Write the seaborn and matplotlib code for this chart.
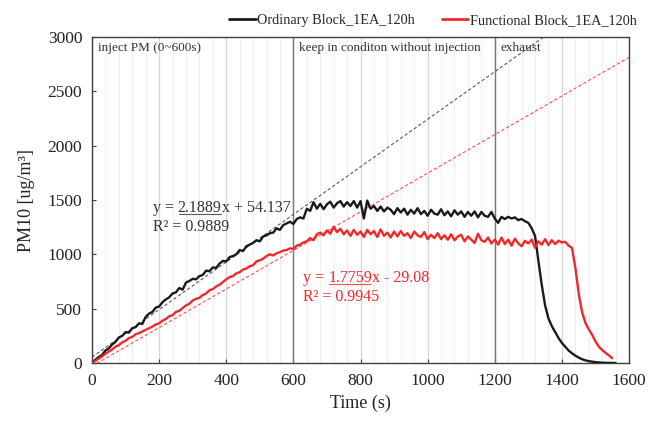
import numpy as np
import pandas as pd
import seaborn as sns
import matplotlib.pyplot as plt
from matplotlib.ticker import MultipleLocator
from matplotlib.lines import Line2D
from matplotlib.transforms import IdentityTransform

# PM10 concentration sampled every 10 s
ordinary_pm10 = [
    0, 30, 55, 75, 115, 135, 170, 195, 235, 250,
    285, 280, 320, 330, 365, 360, 425, 455, 470, 510,
    520, 560, 585, 605, 640, 650, 690, 675, 740, 755,
    775, 770, 800, 810, 850, 845, 880, 875, 915, 940,
    935, 975, 985, 1000, 1040, 1030, 1075, 1090, 1105, 1130,
    1120, 1165, 1175, 1195, 1200, 1240, 1225, 1270, 1285, 1300,
    1280, 1325, 1340, 1330, 1420, 1400, 1480, 1420, 1465, 1415,
    1460, 1485, 1430, 1470, 1490, 1440, 1480, 1445, 1490, 1430,
    1490, 1330, 1495, 1420, 1445, 1400, 1440, 1395, 1430, 1410,
    1370, 1425, 1385, 1420, 1365, 1410, 1375, 1425, 1370, 1400,
    1355, 1410, 1375, 1365, 1415, 1360, 1395, 1350, 1405, 1365,
    1395, 1345, 1390, 1355, 1395, 1340, 1390, 1355, 1345, 1390,
    1330, 1290, 1345, 1325, 1345, 1330, 1340, 1315, 1325, 1305,
    1290, 1240, 1170, 940, 720, 530, 410, 340, 285, 230,
    185, 150, 115, 90, 68, 50, 35, 25, 17, 12,
    8, 5, 3, 2, 1, 0, 0,
]
functional_pm10 = [
    0, 20, 40, 60, 85, 105, 125, 150, 165, 190,
    205, 230, 240, 265, 275, 290, 305, 320, 335, 355,
    365, 390, 405, 430, 440, 470, 480, 505, 530, 545,
    575, 590, 600, 625, 640, 670, 680, 705, 720, 745,
    770, 790, 800, 825, 835, 860, 870, 890, 900, 935,
    945, 960, 985, 1000, 990, 1010, 1020, 1035, 1040, 1055,
    1050, 1080, 1090, 1110, 1120, 1150, 1130, 1185, 1200, 1175,
    1220, 1190, 1255, 1205, 1235, 1185, 1220, 1170, 1225, 1180,
    1210, 1160, 1225, 1185, 1215, 1160, 1230, 1170, 1200, 1155,
    1210, 1165, 1215, 1170, 1195, 1150, 1210, 1175, 1160, 1205,
    1140, 1180, 1150, 1195, 1140, 1175, 1135, 1185, 1130, 1165,
    1180, 1120, 1165, 1135, 1105, 1190, 1130, 1115, 1155, 1100,
    1135, 1090, 1155, 1095, 1135, 1080, 1145, 1100, 1075, 1125,
    1100, 1135, 1060, 1120, 1090, 1140, 1085, 1130, 1095, 1125,
    1110, 1115, 1080, 1060, 880, 640, 470, 370, 310, 260,
    200, 150, 120, 95, 70, 45,
]
ordinary_time = [10 * i for i in range(len(ordinary_pm10))]
functional_time = [10 * i for i in range(len(functional_pm10))]

series_names = ["Ordinary Block_1EA_120h", "Functional Block_1EA_120h"]
series_colors = ["#1a1a1a", "#f0282a"]
trend_colors = ["#595959", "#ff4d4d"]
equation_colors = ["#333333", "#f0282a"]

# linear fits over the injection phase
fit_slopes = [2.1889, 1.7759]
fit_intercepts = [54.137, -29.08]
fit_r2 = [0.9889, 0.9945]

phase_labels = ["inject PM (0~600s)", "keep in conditon without injection", "exhaust"]
phase_starts = [0, 600, 1200]
x_ticks = [0, 200, 400, 600, 800, 1000, 1200, 1400, 1600]
y_ticks = [0, 500, 1000, 1500, 2000, 2500, 3000]

df = pd.concat([
    pd.DataFrame({"Time": ordinary_time, "PM10": ordinary_pm10, "Series": series_names[0]}),
    pd.DataFrame({"Time": functional_time, "PM10": functional_pm10, "Series": series_names[1]}),
])

sns.set_style("ticks")
plt.rcParams["font.family"] = ["Liberation Serif", "DejaVu Serif"]

fig = plt.figure(figsize=(6.59, 4.23), dpi=100)
ax = fig.add_axes([0.1396, 0.1418, 0.8149, 0.7707])

# background vertical grid
ax.xaxis.set_minor_locator(MultipleLocator(40))
ax.grid(which="minor", axis="x", color="#efefef", lw=0.8, zorder=0)
ax.grid(which="major", axis="x", color="#d6d6d6", lw=0.9, zorder=0)
ax.grid(which="major", axis="y", visible=False)
for xs in phase_starts[1:]:
    ax.axvline(xs, color="#777777", lw=1.0, zorder=1)

sns.lineplot(data=df, x="Time", y="PM10", hue="Series", palette=series_colors,
             hue_order=series_names, lw=1.7, ax=ax, legend=False, zorder=3,
             estimator=None, sort=False)

# dashed fit lines
xfit = np.array([0, 1600])
for slope, icpt, col in zip(fit_slopes, fit_intercepts, trend_colors):
    ax.plot(xfit, slope * xfit + icpt, ls=(0, (3, 2)), lw=0.8, color=col, zorder=2)

ax.set_xlim(0, 1600)
ax.set_ylim(0, 3000)
ax.set_xticks(x_ticks)
ax.set_yticks(y_ticks)
ax.tick_params(which="major", direction="in", length=3, width=0.8, labelsize=12.5,
               colors="#404040", labelcolor="#222222", pad=7)
ax.tick_params(which="minor", length=0)
for sp in ax.spines.values():
    sp.set_color("#404040")
    sp.set_linewidth(1.0)

ax.set_xlabel("Time (s)", fontsize=13, color="#222222", labelpad=4)
ax.set_ylabel("PM10 [ug/m³]", fontsize=13, color="#222222", labelpad=9)

# phase annotations
for lbl, xs in zip(phase_labels, phase_starts):
    ax.text(xs + 18, 2900, lbl, fontsize=9.5, va="center", ha="left", color="#333333")


def fit_label(x, y, slope, icpt, r2, color):
    """Write 'y = a x + b' with the slope underlined, and R² below it."""
    sign = "+" if icpt >= 0 else "-"
    kw = dict(fontsize=11.5, color=color)
    head = ax.text(x, y, "y = ", va="baseline", ha="left", **kw)
    num = ax.annotate(f"{slope}", xy=(1, 0), xycoords=head, va="bottom", ha="left", **kw)
    ax.annotate(f"x {sign} {abs(icpt)}", xy=(1, 0), xycoords=num, va="bottom", ha="left", **kw)
    ax.annotate(f"R² = {r2}", xy=(0, 0), xycoords=head, xytext=(0, -13.5),
                textcoords="offset points", va="bottom", ha="left", **kw)
    return num


underlined = [fit_label(181, 1390, fit_slopes[0], fit_intercepts[0], fit_r2[0], equation_colors[0]),
              fit_label(630, 745, fit_slopes[1], fit_intercepts[1], fit_r2[1], equation_colors[1])]

handles = [Line2D([], [], color=c, lw=2) for c in series_colors]
fig.legend(handles, series_names, loc="upper center", bbox_to_anchor=(0.657, 0.997), ncol=2,
           frameon=False, fontsize=10.3, handlelength=1.85, handletextpad=0.1, columnspacing=1.9)

fig.canvas.draw()
renderer = fig.canvas.get_renderer()
for txt, col in zip(underlined, trend_colors):
    bb = txt.get_window_extent(renderer)
    yline = bb.y0 + 2.0
    fig.add_artist(Line2D([bb.x0 + 1, bb.x1 - 1], [yline, yline], transform=IdentityTransform(),
                          color=col, lw=0.8))

fig.savefig("out.png", dpi=100)
